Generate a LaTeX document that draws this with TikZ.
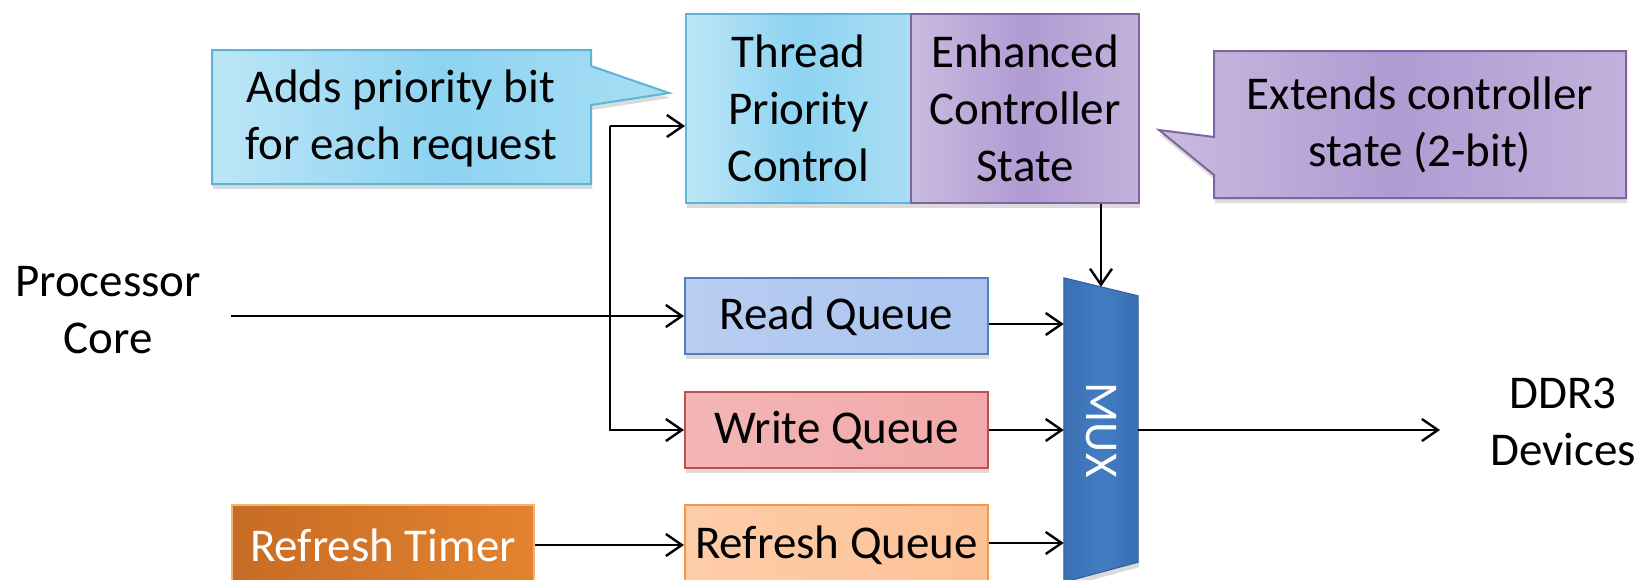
\documentclass[tikz,border=0pt]{standalone}
\usepackage{fontspec}
\setmainfont{Carlito}
\usetikzlibrary{arrows.meta,shadows,calc}
\definecolor{cyL}{HTML}{BDE6F7}
\definecolor{cyM}{HTML}{8DD3F1}
\definecolor{cyB}{HTML}{5BB5D6}
\definecolor{puL}{HTML}{CABBE0}
\definecolor{puM}{HTML}{B09BD2}
\definecolor{puB}{HTML}{8064A2}
\definecolor{rdL}{HTML}{B8CDF1}
\definecolor{rdM}{HTML}{8CB0EA}
\definecolor{rdB}{HTML}{4F81BD}
\definecolor{wrL}{HTML}{F3B6B6}
\definecolor{wrM}{HTML}{EE8A8A}
\definecolor{wrB}{HTML}{C0504D}
\definecolor{rfL}{HTML}{FDCDA9}
\definecolor{rfM}{HTML}{FDB07A}
\definecolor{rfB}{HTML}{F79646}
\definecolor{tmL}{HTML}{C76C24}
\definecolor{tmM}{HTML}{F48F36}
\definecolor{tmR}{HTML}{E3832F}
\definecolor{muxL}{HTML}{3A6FB3}
\definecolor{muxM}{HTML}{427DC2}
\definecolor{muxB}{HTML}{2F5E9A}
\begin{document}
\begin{tikzpicture}[x=1pt,y=-1pt,
  txt/.style={font=\fontsize{47}{57}\selectfont, align=center, inner sep=0pt},
  shad/.style={drop shadow={opacity=0.28,shadow xshift=1pt,shadow yshift=-5pt}},
  blk/.style={draw, line width=2pt, anchor=north west, inner sep=0pt, shad, txt},
  cyanbox/.style={left color=cyL, right color=cyL!60!cyM, middle color=cyM, draw=cyB},
  purbox/.style={left color=puL, right color=puL!70!puM, middle color=puM, draw=puB},
  arr/.style={line width=2.4pt, -{Straight Barb[length=16pt,width=22pt,line width=2.4pt]}},
]
\useasboundingbox (0,0) rectangle (1640,579);
\fill[white] (0,0) rectangle (1640,579);
\clip (0,0) rectangle (1640,579);

% callout 1
\path[cyanbox, line width=2pt, shad] (212,50) -- (591,50) -- (591,66) -- (669,93) -- (591,105) -- (591,184) -- (212,184) -- cycle;
\node[txt] (c1) at (401,118) {Adds priority bit\\for each request};

% callout 2
\path[purbox, line width=2pt, shad] (1214,51) -- (1626,51) -- (1626,198) -- (1214,198) -- (1214,175) -- (1159,130) -- (1214,137) -- cycle;
\node[txt] (c2) at (1420,125) {Extends controller\\state (2-bit)};

% top blocks
\node[blk, cyanbox, minimum width=225pt, minimum height=189pt] (tpc) at (685,13) {Thread\\Priority\\Control};
\node[blk, purbox, minimum width=228pt, minimum height=189pt] (ecs) at (910,13) {Enhanced\\Controller\\State};

% queues
\node[blk, left color=rdL, middle color=rdM, right color=rdL!70!rdM, draw=rdB, minimum width=303pt, minimum height=76pt] (rq) at (684,277) {Read Queue};
\node[blk, left color=wrL, middle color=wrM, right color=wrL!70!wrM, draw=wrB, minimum width=303pt, minimum height=76pt] (wq) at (684,391) {Write Queue};
\node[blk, left color=rfL, middle color=rfM, right color=rfL!60!rfM, draw=rfB, minimum width=303pt, minimum height=80pt] (rfq) at (684,504) {Refresh Queue};
\node[blk, left color=tmL, middle color=tmM, right color=tmR, draw=tmM!70!white, text=white, minimum width=302pt, minimum height=80pt] (rt) at (231,504) {Refresh Timer};

% text labels
\node[txt] (proc) at (108,310) {Processor\\Core};
\node[txt] (ddr) at (1563,422) {DDR3\\Devices};

% MUX
\node[minimum width=74pt, minimum height=304pt, inner sep=0pt] (mux) at (1101,430) {};
\path[left color=muxL, right color=muxL, middle color=muxM, draw=muxB, line width=1pt, shad]
  (mux.north west) -- ([yshift=-18pt]mux.north east) -- ([yshift=20pt]mux.south east) -- (mux.south west) -- cycle;
\node[txt, rotate=-90, text=white] (muxlbl) at (mux.center) {MUX};

% connectors
\coordinate (pstart) at (231,316);
\draw[arr] (pstart) -- (pstart -| rq.west);
\coordinate (vtop) at (610,126);
\draw[arr, line width=2.2pt] (vtop) -- (vtop -| tpc.west);
\draw[arr, line width=2.2pt] (vtop) |- (wq.west);
\draw[arr] (rt.east) -- (rfq.west);
\draw[arr] ([yshift=-8pt]rq.east) -- ([yshift=-8pt]rq.east -| mux.west);
\draw[arr] (wq.east) -- (wq.east -| mux.west);
\draw[arr] ([yshift=2pt]rfq.east) -- ([yshift=2pt]rfq.east -| mux.west);
\draw[arr, line width=2.2pt] (ecs.south -| mux.north) -- ([yshift=-9pt]mux.north);
\coordinate (ddrend) at (1440,430);
\draw[arr] (mux.east) -- (ddrend);
\end{tikzpicture}
\end{document}
